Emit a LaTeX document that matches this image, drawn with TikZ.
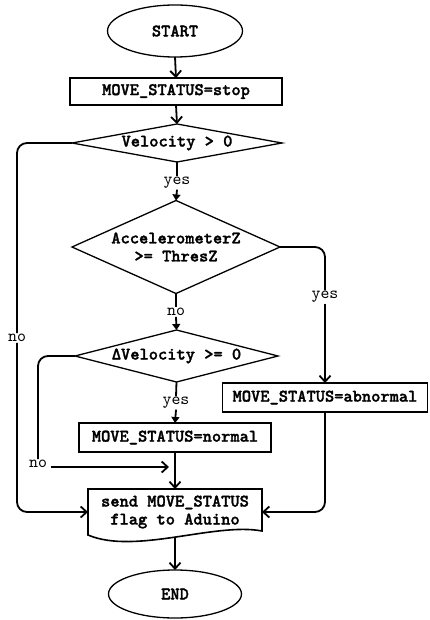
\documentclass[tikz,border=0pt]{standalone}
\usepackage{fontspec}
\newfontfamily\nodefont{lmmonolt10-bold}[Extension=.otf, FakeBold=1.6]
\newfontfamily\labfont{lmmono10-regular}[Extension=.otf]
\usetikzlibrary{shapes.geometric,arrows.meta,calc}
\begin{document}
\begin{tikzpicture}[x=1pt,y=-1pt,
 every node/.style={font=\nodefont\fontsize{17.6}{18}\selectfont, inner sep=0pt, outer sep=0pt},
 proc/.style={draw, line width=1.6pt, rectangle},
 term/.style={draw, line width=1.3pt, ellipse},
 dec/.style={draw, line width=1.3pt, diamond},
 lab/.style={font=\labfont\fontsize{17}{18}\selectfont, fill=white, inner sep=1pt},
 conn/.style={line width=1.8pt, rounded corners=10pt},
 arr/.style={conn, -{Straight Barb[length=6pt,width=11pt]}},
 sarr/.style={line width=1.8pt, -{Triangle[length=6pt,width=8pt]}},
]
\useasboundingbox[fill=white] (0,0) rectangle (429,620);

\node[term, minimum width=135, minimum height=52] (start) at (175,31) {START};
\node[proc, minimum width=212, minimum height=27] (stop) at (176,91.5) {MOVE\_STATUS=stop};
\node[dec, minimum width=210, minimum height=38, shape aspect=5.5] (v0) at (177,143) {Velocity > 0};
\node[lab] (yes1) at (177,183) {yes};
\node[dec, minimum width=208, minimum height=93, shape aspect=2.24, align=center] (acc) at (176,247) {AccelerometerZ\\ >= ThresZ};
\node[lab] (no1) at (176,312) {no};
\node[dec, minimum width=203, minimum height=52, shape aspect=3.9] (dv) at (176.5,356) {ΔVelocity >= 0};
\node[lab] (yes2) at (176,403) {yes};
\node[proc, minimum width=192, minimum height=29] (normal) at (175,437.5) {MOVE\_STATUS=normal};
\node[proc, minimum width=205, minimum height=29] (abn) at (325,397.5) {MOVE\_STATUS=abnormal};
\node[minimum width=174, minimum height=46, align=center] (doc) at (175,512) {send MOVE\_STATUS\\flag to Aduino};
\node[term, minimum width=133, minimum height=48] (end) at (175,594) {END};

\node[lab] (noA) at (17,338) {no};
\node[lab] (yesR) at (325,297) {yes};
\node[lab] (noB) at (38,464) {no};
\coordinate (mg) at (169,467);

% document shape
\draw[line width=1.6pt] (doc.north west) -- (doc.north east) -- ($(doc.south east)+(0,-4)$)
  .. controls ($(doc.south east)+(-47,-13)$) and ($(doc.south west)+(47,20)$) .. (doc.south west) -- cycle;

% connectors
\draw[arr] (start.south) -- (stop.north);
\draw[arr] (stop.south) -- (v0.north);
\draw[conn] (v0.south) -- (yes1.north);
\draw[sarr] (yes1.south) -- (acc.north);
\draw[conn] (acc.south) -- (no1.north);
\draw[sarr] (no1.south) -- (dv.north);
\draw[conn] (dv.south) -- (yes2.north);
\draw[sarr] (yes2.south) -- (normal.north);
\draw[arr] (normal.south) -- (doc.north);
\draw[conn] (v0.west) -| (noA.north);
\draw[arr] (noA.south) |- (doc.west);
\draw[conn] (acc.east) -| (yesR.north);
\draw[arr] (yesR.south) -- (abn.north);
\draw[arr] (abn.south) |- (doc.east);
\draw[conn] (dv.west) -| (noB.north);
\draw[arr, shorten <=3pt] (noB.east |- mg) -- (mg);
\draw[arr] ($(doc.south)+(0,2)$) -- (end.north);
\end{tikzpicture}
\end{document}
